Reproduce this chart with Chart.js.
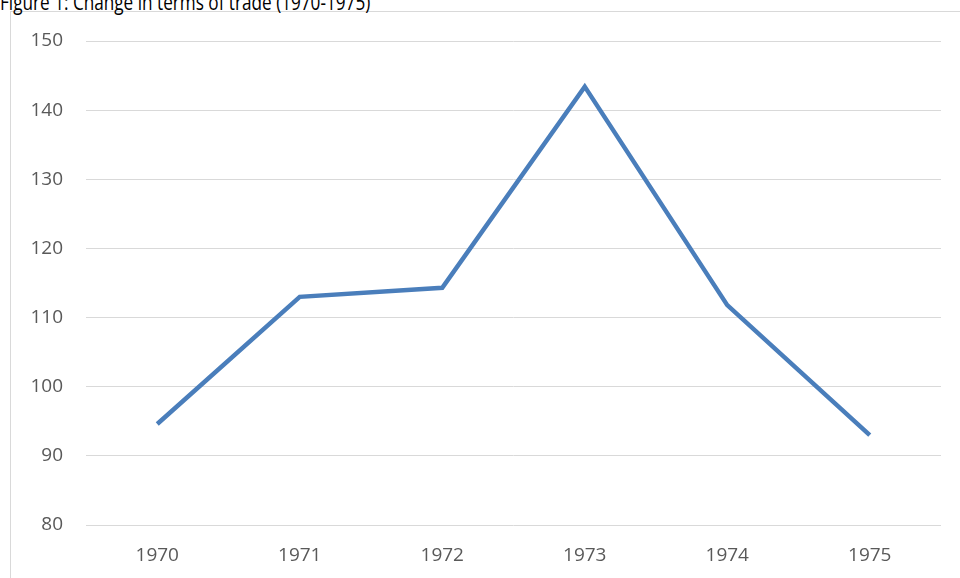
<!DOCTYPE html>
<html><head><meta charset="utf-8">
<script src="https://cdn.jsdelivr.net/npm/chart.js@4/dist/chart.umd.min.js"></script>
<style>
html,body{margin:0;padding:0;background:#fff;overflow:hidden;}
#wrap{position:relative;width:960px;height:578px;}
#box{position:absolute;left:10px;top:11px;width:980px;height:600px;border:1px solid #d9d9d9;box-sizing:border-box;}
#title{position:absolute;left:0;top:-14px;font-family:"Open Sans","Liberation Sans",sans-serif;font-size:22px;color:#000;white-space:nowrap;transform:scaleX(0.78);transform-origin:left top;}
canvas{position:absolute;left:0;top:0;}
</style></head>
<body><div id="wrap"><div id="box"></div><div id="title">Figure 1: Change in terms of trade (1970-1975)</div><canvas id="c" width="960" height="578"></canvas></div>
<script>
const years = ["1970","1971","1972","1973","1974","1975"];
const termsOfTrade = [94.6, 113.0, 114.3, 143.4, 111.8, 93.0];
const yMin = 80, yMax = 150, yStep = 10;

new Chart(document.getElementById('c'), {
  type: 'line',
  data: { labels: years, datasets: [{ data: termsOfTrade, borderColor: '#4a7ebb', borderWidth: 4.5, pointRadius: 0, tension: 0, fill: false, borderCapStyle: 'butt', borderJoinStyle: 'miter' }] },
  options: {
    responsive: false, animation: false,
    layout: { padding: { left: 10, top: 41, right: 19, bottom: 0 } },
    plugins: { legend: { display: false }, tooltip: { enabled: false } },
    scales: {
      x: { offset: true, grid: { display: false, drawTicks: false }, border: { display: false },
           ticks: { padding: 19, color: '#595959', font: { family: '"Open Sans","Liberation Sans",sans-serif', size: 19 } },
           afterFit: s => { s.height = 53; } },
      y: { min: yMin, max: yMax, grid: { color: '#d9d9d9', lineWidth: 1, drawTicks: false }, border: { display: false },
           ticks: { stepSize: yStep, padding: 23, color: '#595959', font: { family: '"Open Sans","Liberation Sans",sans-serif', size: 19 } },
           afterFit: s => { s.width = 76; } }
    }
  }
});
</script></body></html>
